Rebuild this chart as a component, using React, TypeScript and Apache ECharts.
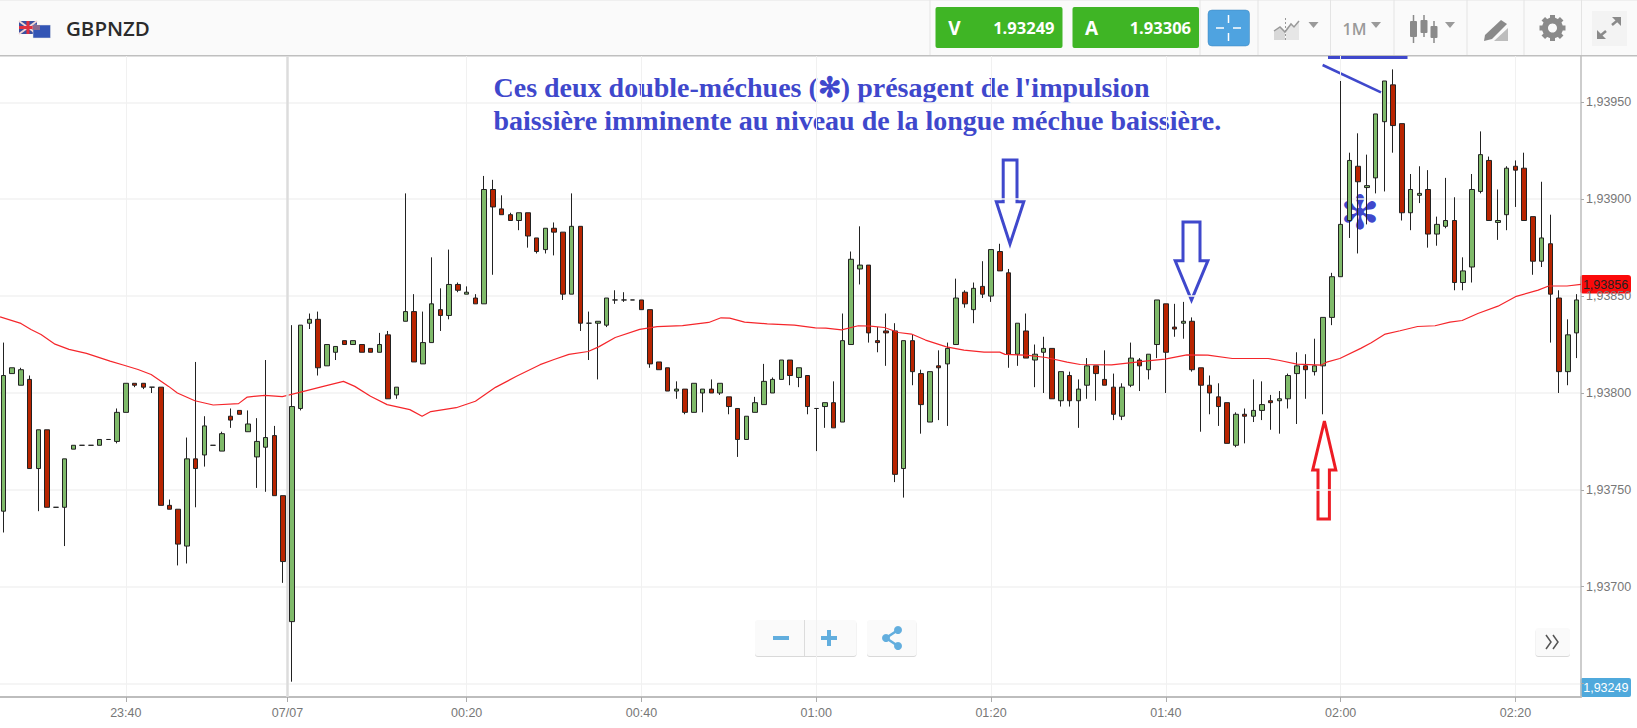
import React, { useEffect, useRef } from "react";
import * as echarts from "echarts";

// Prices are written as integers: price x 100000 (193739 means 1,93739)
const opens = [193739,193810,193804,193807,193761,193781,193741,193741,193771,193773,193773,193773,193776,193775,193790,193805,193805,193803,193803,193742,193740,193721,193766,193768,193773,193770,193788,193791,193780,193767,193772,193778,193747,193682,193792,193836,193838,193814,193821,193827,193825,193825,193823,193821,193830,193799,193837,193842,193815,193826,193843,193840,193856,193851,193849,193846,193905,193895,193892,193889,193893,193880,193874,193885,193883,193851,193886,193836,193836,193835,193848,193848,193848,193848,193843,193816,193813,193801,193802,193790,193800,193802,193800,193798,193792,193776,193790,193794,193800,193807,193817,193808,193809,193792,193793,193795,193785,193825,193864,193866,193827,193832,193832,193761,193827,193810,193785,193814,193815,193825,193852,193843,193855,193850,193873,193862,193820,193832,193817,193821,193823,193796,193809,193796,193804,193814,193807,193803,193788,193804,193817,193812,193825,193846,193834,193836,193837,193813,193804,193798,193795,193773,193789,193788,193791,193796,193796,193797,193810,193814,193811,193814,193839,193860,193889,193917,193906,193911,193940,193959,193939,193893,193902,193905,193882,193886,193889,193857,193865,193904,193920,193888,193892,193917,193916,193891,193868,193877,193849,193811,193831];
const closes = [193809,193813,193812,193761,193781,193741,193741,193766,193773,193773,193773,193776,193776,193790,193805,193804,193803,193803,193742,193740,193722,193766,193761,193783,193773,193779,193786,193789,193784,193775,193777,193747,193713,193793,193835,193838,193813,193825,193824,193825,193827,193821,193821,193825,193797,193803,193842,193816,193826,193846,193840,193856,193853,193852,193846,193905,193896,193892,193889,193893,193881,193873,193885,193883,193851,193886,193836,193836,193837,193849,193848,193848,193848,193843,193815,193812,193801,193802,193790,193805,193802,193800,193805,193793,193776,193788,193795,193806,193807,193817,193809,193813,193793,193792,193795,193782,193827,193869,193866,193831,193826,193831,193758,193827,193811,193794,193811,193813,193823,193849,193846,193854,193851,193874,193863,193820,193836,193818,193820,193823,193797,193811,193796,193802,193814,193810,193804,193789,193803,193818,193814,193820,193848,193821,193833,193837,193812,193804,193800,193793,193774,193789,193788,193791,193794,193795,193797,193809,193814,193812,193814,193839,193860,193887,193920,193909,193907,193944,193961,193938,193893,193905,193903,193882,193887,193889,193857,193863,193905,193923,193889,193889,193916,193915,193889,193868,193880,193851,193811,193830,193848];
const lows = [193728,193810,193804,193761,193739,193741,193741,193721,193771,193773,193773,193773,193776,193774,193790,193803,193802,193800,193742,193740,193711,193712,193741,193762,193773,193770,193782,193789,193780,193751,193749,193747,193702,193651,193791,193833,193809,193814,193817,193825,193825,193821,193821,193821,193797,193797,193837,193816,193815,193826,193832,193838,193852,193851,193846,193846,193861,193892,193889,193884,193875,193872,193872,193871,193848,193851,193832,193817,193807,193834,193846,193847,193848,193843,193813,193812,193801,193797,193789,193790,193790,193800,193799,193789,193767,193776,193790,193794,193800,193807,193804,193803,193789,193770,193782,193782,193785,193825,193856,193826,193821,193814,193754,193746,193804,193779,193785,193786,193783,193825,193844,193836,193849,193847,193863,193813,193814,193818,193803,193800,193797,193793,193793,193782,193797,193796,193804,193786,193786,193803,193801,193807,193818,193800,193829,193828,193811,193780,193789,193783,193774,193772,193774,193785,193786,193781,193779,193792,193784,193797,193809,193789,193835,193860,193880,193872,193887,193903,193904,193924,193889,193884,193898,193875,193876,193885,193853,193853,193857,193903,193889,193879,193884,193896,193889,193861,193865,193826,193800,193804,193818];
const highs = [193826,193813,193813,193809,193781,193781,193741,193766,193773,193773,193773,193776,193776,193792,193805,193805,193805,193803,193803,193745,193740,193777,193816,193788,193773,193780,193792,193791,193791,193787,193817,193783,193747,193835,193835,193841,193842,193825,193824,193827,193827,193825,193823,193831,193832,193803,193903,193851,193842,193870,193854,193874,193857,193855,193851,193912,193910,193902,193893,193893,193893,193880,193885,193888,193883,193903,193886,193842,193837,193849,193853,193852,193848,193848,193843,193816,193813,193806,193802,193805,193802,193807,193805,193798,193792,193788,193798,193815,193808,193817,193817,193813,193809,193792,193795,193806,193841,193873,193886,193866,193834,193841,193836,193827,193830,193812,193811,193822,193826,193859,193853,193857,193868,193874,193877,193864,193836,193841,193825,193829,193823,193811,193811,193807,193818,193814,193822,193810,193805,193826,193818,193820,193848,193846,193846,193847,193839,193813,193809,193805,193795,193790,193792,193807,193806,193799,193801,193810,193821,193820,193828,193839,193862,193961,193924,193934,193923,193944,193961,193967,193939,193913,193917,193915,193891,193911,193901,193870,193913,193935,193922,193905,193917,193920,193924,193891,193909,193892,193853,193838,193851];

const maIndex = [-0.39,2,3.15,4.3,5.9,7.5,9.5,12.2,13.8,15.4,16.9,18.9,19.9,21.9,24,26.9,27.9,29.9,31.9,33.9,36.6,38.9,40.2,42,43.9,46.5,47.9,48.9,51.8,54,56.3,58.7,61.4,63,64.7,66.9,68.1,70,72.8,74.8,77.7,80.7,82.1,83.1,84.8,87.4,90.5,92.9,94.1,95.9,97.8,99.2,100.8,102.4,103.9,105.5,107.9,109.9,112.2,114,114.6,117,119.3,121.7,123.2,126.8,130.9,132.9,135.4,137.8,140.6,144.7,145.9,148,150.8,151.4,152.9,155.3,156.5,158.1,159.8,161.8,163.8,165.5,166.9,168.7,171,173,175.6,176.8,178.9,180.5];
const maValues = [193839.3,193835.9,193832.8,193830.2,193825.2,193822.5,193820.4,193816.4,193814.3,193812.1,193809.5,193803.4,193800,193796,193793.8,193794.5,193797.9,193798.8,193798.1,193800.3,193803.4,193806,193803.4,193798.3,193794,193791.4,193788,193790.4,193792.4,193795.7,193802.9,193808.6,193814.6,193817.3,193819.9,193821.4,193823.8,193828.6,193832.8,193834.2,193834.8,193836.4,193838.8,193838.6,193836.6,193835.7,193835,193833.6,193833.5,193832.6,193834.7,193834.5,193833.8,193831.2,193830.4,193827.3,193823.8,193822.1,193821.1,193821.1,193819.9,193819.5,193818.3,193815.9,193814.7,193814.5,193816.6,193817.5,193819.7,193819.5,193817.8,193817.8,193816.9,193814.9,193814.4,193815.9,193817.8,193823,193825.9,193830.4,193832.1,193834.3,193834.7,193836.6,193837.4,193841,193844.8,193849.7,193853.1,193855.2,193855.2,193856];

const timeTickIndex = [14, 32.5, 53, 73, 93, 113, 133, 153, 173];
const timeTickLabels = ["23:40", "07/07", "00:20", "00:40", "01:00", "01:20", "01:40", "02:00", "02:20"];
const priceGridLines = [193650, 193700, 193750, 193800, 193850, 193900, 193950];
// 1,93650 sits behind the blue price tag in the reference, so it has no visible label
const priceLabels = [193700, 193750, 193800, 193850, 193900, 193950];
const symbolName = "GBPNZD";
const sellQuote = ["V", "1.93249"];
const askQuote = ["A", "1.93306"];
const lastPrice = "1,93856";
const lowPrice = "1,93249";
const noteLines = [
  "Ces deux double-méchues (✻) présagent de l'impulsion",
  "baissière imminente au niveau de la longue méchue baissière.",
];

const BLUE = "#3f48cc";
const RED = "#ed1c24";
const ICON = "#8a8a8a";
const GREENBTN = "#3fb525";
const fmtPrice = (v: number) => (v / 100000).toFixed(5).replace(".", ",");

function headerElements(): any[] {
  const els: any[] = [];
  els.push({ type: "rect", shape: { x: 0, y: 0, width: 1637, height: 55 }, style: { fill: "#fafafa" } });
  els.push({ type: "rect", shape: { x: 0, y: 0, width: 1637, height: 1 }, style: { fill: "#efefef" } });
  els.push({ type: "rect", shape: { x: 0, y: 55, width: 1637, height: 1.5 }, style: { fill: "#bfbfbf" } });
  [930, 1200, 1258, 1330.5, 1394, 1467, 1524, 1581.5].forEach((x) =>
    els.push({ type: "line", shape: { x1: x, y1: 0, x2: x, y2: 55 }, style: { stroke: "#e4e4e4", lineWidth: 1 } })
  );
  // flags
  els.push({ type: "rect", shape: { x: 19, y: 21, width: 18, height: 13 }, style: { fill: "#3a4fa0" } });
  els.push({ type: "line", shape: { x1: 19, y1: 21, x2: 37, y2: 34 }, style: { stroke: "#f3d6d6", lineWidth: 2 } });
  els.push({ type: "line", shape: { x1: 37, y1: 21, x2: 19, y2: 34 }, style: { stroke: "#f3d6d6", lineWidth: 2 } });
  els.push({ type: "rect", shape: { x: 19, y: 26, width: 18, height: 3 }, style: { fill: "#e03040" } });
  els.push({ type: "rect", shape: { x: 26.5, y: 21, width: 3, height: 13 }, style: { fill: "#e03040" } });
  els.push({ type: "rect", shape: { x: 33, y: 25, width: 17.5, height: 13 }, style: { fill: "#3355b5", stroke: "#e6e6e6", lineWidth: 0.5 } });
  els.push({ type: "rect", shape: { x: 33, y: 25, width: 7, height: 5 }, style: { fill: "#8a6a90" } });
  els.push({ type: "text", x: 66, y: 28, style: { text: symbolName, font: "600 20.5px 'Open Sans'", fill: "#2b2b2b", verticalAlign: "middle" } });
  // quotes
  const quote = (x: number, w: number, q: string[]) => {
    els.push({ type: "rect", shape: { x, y: 7, width: w, height: 41, r: 2 }, style: { fill: GREENBTN } });
    els.push({ type: "text", x: x + 19, y: 28, style: { text: q[0], font: "700 19px 'Open Sans'", fill: "#fff", align: "center", verticalAlign: "middle" } });
    els.push({ type: "text", x: x + w - 8, y: 27, style: { text: q[1], font: "700 16.5px 'Open Sans'", fill: "#fff", align: "right", verticalAlign: "middle" } });
  };
  quote(935.5, 127, sellQuote);
  quote(1072.5, 126.5, askQuote);
  // crosshair button
  els.push({ type: "rect", shape: { x: 1208, y: 10, width: 41.5, height: 36, r: 4 }, style: { fill: "#4fa3e0", stroke: "#3f86bd", lineWidth: 0.5 } });
  [[1216, 28, 1224, 28], [1233, 28, 1241, 28], [1228.5, 15, 1228.5, 23], [1228.5, 33, 1228.5, 41]].forEach((p) =>
    els.push({ type: "line", shape: { x1: p[0], y1: p[1], x2: p[2], y2: p[3] }, style: { stroke: "#fff", lineWidth: 1.5 } })
  );
  const tri = (x: number, y: number) =>
    els.push({ type: "polygon", shape: { points: [[x - 5, y - 3], [x + 5, y - 3], [x, y + 3]] }, style: { fill: "#9a9a9a" } });
  // chart type icon
  els.push({ type: "polygon", shape: { points: [[1274, 40], [1274, 31], [1280, 27], [1285, 32], [1285, 40]] }, style: { fill: "#d8d8d8" } });
  els.push({ type: "polygon", shape: { points: [[1286, 40], [1286, 28], [1291, 24], [1294, 28], [1299, 21], [1299, 40]] }, style: { fill: "#e6e6e6" } });
  els.push({ type: "polyline", shape: { points: [[1274, 31], [1280, 27], [1285, 32], [1291, 24], [1294, 27], [1299, 21]] }, style: { stroke: "#999", lineWidth: 1.5, fill: "none" } });
  els.push({ type: "line", shape: { x1: 1285.5, y1: 18, x2: 1285.5, y2: 41 }, style: { stroke: "#999", lineWidth: 1, lineDash: [2, 2] } });
  tri(1313.5, 25);
  els.push({ type: "text", x: 1354.5, y: 29, style: { text: "1M", font: "600 16px 'Open Sans'", fill: "#9a9a9a", align: "center", verticalAlign: "middle" } });
  tri(1376, 25);
  // candle icon
  [[1413.5, 15, 43, 21, 37], [1424, 15, 37, 20, 33], [1434, 21, 43, 26, 38]].forEach((c) => {
    els.push({ type: "line", shape: { x1: c[0], y1: c[1], x2: c[0], y2: c[2] }, style: { stroke: ICON, lineWidth: 1.5 } });
    els.push({ type: "rect", shape: { x: c[0] - 3.5, y: c[3], width: 7, height: c[4] - c[3], r: 1 }, style: { fill: ICON } });
  });
  tri(1450, 25);
  // drawing tool icon
  els.push({ type: "polygon", shape: { points: [[1485, 35], [1501, 20], [1507, 24], [1492, 39], [1484, 41]] }, style: { fill: ICON } });
  els.push({ type: "polygon", shape: { points: [[1494, 41], [1508, 28], [1508, 41]] }, style: { fill: "#bdbdbd" } });
  // gear
  els.push({ type: "ring", shape: { cx: 1552.5, cy: 28, r: 10.5, r0: 4.5 }, style: { fill: ICON } });
  for (let k = 0; k < 8; k++) {
    els.push({
      type: "rect", x: 1552.5, y: 28, rotation: (k * Math.PI) / 4,
      shape: { x: -2.5, y: -13, width: 5, height: 5 }, style: { fill: ICON },
    });
  }
  // expand icon
  els.push({ type: "rect", shape: { x: 1592, y: 11, width: 35, height: 35 }, style: { fill: "#f3f3f3" } });
  els.push({ type: "line", shape: { x1: 1600, y1: 36, x2: 1606, y2: 31 }, style: { stroke: ICON, lineWidth: 2.5 } });
  els.push({ type: "line", shape: { x1: 1612, y1: 25, x2: 1618, y2: 20 }, style: { stroke: ICON, lineWidth: 2.5 } });
  els.push({ type: "polygon", shape: { points: [[1597, 30], [1597, 39], [1606, 39]] }, style: { fill: ICON } });
  els.push({ type: "polygon", shape: { points: [[1612, 17], [1621, 17], [1621, 26]] }, style: { fill: ICON } });
  return els;
}

function footerElements(): any[] {
  const els: any[] = [];
  const btn = (x: number, y: number, w: number, h: number) => {
    els.push({ type: "rect", shape: { x, y: y + 1, width: w, height: h, r: 3 }, style: { fill: "#d9d9d9" } });
    els.push({ type: "rect", shape: { x, y, width: w, height: h, r: 3 }, style: { fill: "#fafafa" } });
  };
  const B = "#62aede";
  btn(755, 620, 101.5, 36);
  els.push({ type: "line", shape: { x1: 804.5, y1: 620, x2: 804.5, y2: 656 }, style: { stroke: "#dcdcdc", lineWidth: 1 } });
  els.push({ type: "rect", shape: { x: 773, y: 636, width: 16, height: 4 }, style: { fill: B } });
  els.push({ type: "rect", shape: { x: 821, y: 636, width: 16, height: 4 }, style: { fill: B } });
  els.push({ type: "rect", shape: { x: 827, y: 630, width: 4, height: 16 }, style: { fill: B } });
  btn(867, 620, 49.5, 36);
  els.push({ type: "polyline", shape: { points: [[898, 630], [886, 638], [898, 646]] }, style: { stroke: B, lineWidth: 2.5, fill: "none" } });
  [[898, 630], [886, 638], [898, 646]].forEach((p) =>
    els.push({ type: "circle", shape: { cx: p[0], cy: p[1], r: 4 }, style: { fill: B } })
  );
  btn(1535.5, 628, 34.5, 28);
  els.push({ type: "polyline", shape: { points: [[1546, 635], [1551, 642], [1546, 649]] }, style: { stroke: "#555", lineWidth: 1.5, fill: "none" } });
  els.push({ type: "polyline", shape: { points: [[1553, 635], [1558, 642], [1553, 649]] }, style: { stroke: "#555", lineWidth: 1.5, fill: "none" } });
  return els;
}

function annotationElements(): any[] {
  const S = { stroke: BLUE, lineWidth: 3, fill: "none" };
  const els: any[] = [];
  els.push({ type: "text", x: 493.5, y: 87, style: { text: noteLines[0], font: "700 28px 'Liberation Serif'", fill: BLUE, verticalAlign: "middle" } });
  els.push({ type: "text", x: 493.5, y: 120, style: { text: noteLines[1], font: "700 28px 'Liberation Serif'", fill: BLUE, verticalAlign: "middle" } });
  els.push({ type: "text", x: 1360, y: 212, style: { text: "✻", font: "700 47px 'DejaVu Sans'", fill: BLUE, align: "center", verticalAlign: "middle" } });
  els.push({ type: "polygon", shape: { points: [[1003.2, 160], [1017, 160], [1017, 201.7], [1023.8, 201.7], [1010, 244], [996.3, 201.7], [1003.2, 201.7]] }, style: S });
  els.push({ type: "polygon", shape: { points: [[1183, 222], [1200, 222], [1200, 260.7], [1207.9, 260.7], [1191.5, 300], [1175.2, 260.7], [1183, 260.7]] }, style: S });
  els.push({ type: "polygon", shape: { points: [[1324.4, 421], [1335.8, 470], [1329.4, 470], [1329.4, 519], [1318, 519], [1318, 470], [1312.7, 470]] }, style: { stroke: RED, lineWidth: 3, fill: "none" } });
  els.push({ type: "line", shape: { x1: 1322.6, y1: 65, x2: 1381, y2: 92.3 }, style: { stroke: BLUE, lineWidth: 2.5 } });
  els.push({ type: "rect", shape: { x: 1328, y: 56, width: 79.5, height: 3 }, style: { fill: BLUE } });
  return els;
}

function priceTagElements(): any[] {
  return [
    { type: "rect", shape: { x: 1580, y: 275, width: 51, height: 18.5, r: 3 }, style: { fill: "#fb0a0a" } },
    { type: "text", x: 1605.5, y: 284.5, style: { text: lastPrice, font: "12.5px 'Liberation Sans'", fill: "#222", align: "center", verticalAlign: "middle" } },
    { type: "rect", shape: { x: 1580.5, y: 678, width: 50.5, height: 19, r: 2 }, style: { fill: "#4fa9dc" } },
    { type: "text", x: 1605.8, y: 687.5, style: { text: lowPrice, font: "12.5px 'Liberation Sans'", fill: "#fff", align: "center", verticalAlign: "middle" } },
  ];
}

export default function App() {
  const ref = useRef<HTMLDivElement>(null);
  useEffect(() => {
    document.body.style.margin = "0";
    document.body.style.background = "#fff";
    const chart = echarts.init(ref.current!, undefined, { renderer: "svg" });
    const candles = opens.map((o, i) => [i, o, closes[i], lows[i], highs[i]]);
    const ma = maIndex.map((x, i) => [x, maValues[i]]);
    const labelOf = (v: number) => timeTickLabels[timeTickIndex.indexOf(v)] ?? "";
    chart.setOption({
      animation: false,
      backgroundColor: "#fff",
      grid: { left: 0, top: 56, width: 1581, height: 641, containLabel: false },
      xAxis: {
        type: "value",
        min: -0.394,
        max: 180.5,
        position: "bottom",
        axisLine: { show: true, onZero: false, lineStyle: { color: "#bdbdbd", width: 2 } },
        axisTick: { show: true, length: 5, lineStyle: { color: "#aaa" }, customValues: timeTickIndex },
        axisLabel: {
          customValues: timeTickIndex,
          formatter: (v: number) => labelOf(v),
          color: "#777",
          fontSize: 12.5,
          fontFamily: "Liberation Sans",
          margin: 9,
        },
        splitLine: { show: true, lineStyle: { color: "#f1f1f1", width: 1 } },
      },
      yAxis: {
        type: "value",
        position: "right",
        min: 193643.1,
        max: 193973.9,
        axisLine: { show: true, onZero: false, lineStyle: { color: "#bdbdbd", width: 1.5 } },
        axisTick: { show: true, length: 3, lineStyle: { color: "#aaa" }, customValues: priceGridLines },
        axisLabel: {
          customValues: priceLabels,
          formatter: fmtPrice,
          color: "#777",
          fontSize: 12.5,
          fontFamily: "Liberation Sans",
          margin: 5,
        },
        splitLine: { show: true, lineStyle: { color: "#f2f2f2", width: 1.5 } },
      },
      series: [
        {
          type: "line",
          data: [],
          silent: true,
          z: 1,
          markLine: {
            silent: true,
            symbol: "none",
            label: { show: false },
            lineStyle: { color: "#dcdcdc", width: 2.5, type: "solid" },
            data: [{ xAxis: timeTickIndex[1] }],
          },
        },
        {
          type: "candlestick",
          data: candles,
          barWidth: 5,
          z: 3,
          itemStyle: {
            color: "#7fba6a",
            color0: "#b82400",
            borderColor: "#222",
            borderColor0: "#222",
            borderWidth: 1,
          },
        },
        {
          type: "line",
          data: ma,
          symbol: "none",
          z: 4,
          lineStyle: { color: "#f5262b", width: 1.2 },
        },
      ],
      graphic: {
        elements: [
          { type: "group", z: 100, children: [...headerElements(), ...footerElements(), ...annotationElements(), ...priceTagElements()] },
        ],
      },
    });
    return () => chart.dispose();
  }, []);
  return <div ref={ref} style={{ width: 1637, height: 728 }} />;
}
